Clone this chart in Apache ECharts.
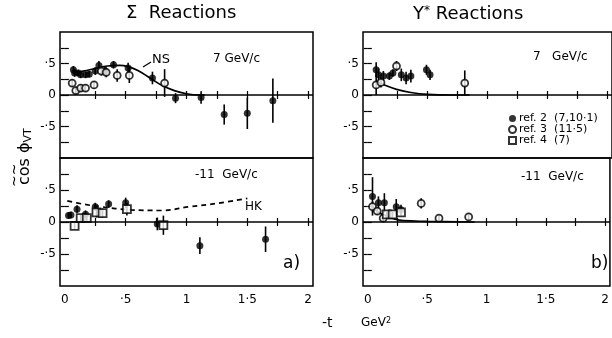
<!DOCTYPE html>
<html>
<head>
<meta charset="utf-8">
<script src="https://cdn.jsdelivr.net/npm/echarts@6/dist/echarts.min.js"></script>
<style>
  html, body { margin: 0; padding: 0; background: #fff; }
  #main { width: 612px; height: 338px; }
</style>
</head>
<body>
<div id="main"></div>
<script>
// 坐标刻度
var xLabelValues = [0, 0.5, 1, 1.5, 2];
var xLabelTexts = ['0', '·5', '1', '1·5', '2'];
var xTickValues = [0.25, 0.5, 0.75, 1, 1.25, 1.5, 1.75, 2];
var yLabelValues = [-0.5, 0, 0.5];
var yLabelTexts = ['-·5', '0', '·5'];
var yTickValues = [-0.75, -0.5, -0.25, 0, 0.25, 0.5, 0.75];

// Σ reactions, 7 GeV/c
var sig7FilledT = [0.07, 0.08, 0.11, 0.13, 0.17, 0.20, 0.25, 0.28, 0.33, 0.40, 0.52, 0.72, 0.91, 1.12, 1.31, 1.50, 1.71];
var sig7FilledV = [0.40, 0.35, 0.35, 0.32, 0.32, 0.33, 0.38, 0.47, 0.38, 0.48, 0.43, 0.27, -0.05, -0.04, -0.31, -0.29, -0.09];
var sig7FilledE = [0.06, 0.06, 0.05, 0.05, 0.05, 0.05, 0.06, 0.07, 0.07, 0.06, 0.08, 0.10, 0.08, 0.10, 0.16, 0.25, 0.35];
var sig7OpenT = [0.06, 0.09, 0.13, 0.17, 0.24, 0.30, 0.34, 0.43, 0.53, 0.82];
var sig7OpenV = [0.19, 0.07, 0.11, 0.11, 0.16, 0.38, 0.36, 0.31, 0.31, 0.19];
var sig7OpenE = [0.06, 0.06, 0.06, 0.06, 0.06, 0.07, 0.08, 0.10, 0.12, 0.22];
var nsCurveT = [0.07, 0.15, 0.25, 0.35, 0.45, 0.52, 0.60, 0.70, 0.80, 0.90, 1.00, 1.10, 1.15];
var nsCurveV = [0.36, 0.38, 0.42, 0.46, 0.47, 0.45, 0.39, 0.27, 0.15, 0.07, 0.02, 0.0, 0.0];

// Σ reactions, 11 GeV/c
var sig11FilledT = [0.03, 0.05, 0.10, 0.17, 0.25, 0.36, 0.50, 0.76, 1.11, 1.65];
var sig11FilledV = [0.10, 0.11, 0.20, 0.12, 0.24, 0.28, 0.30, -0.03, -0.37, -0.27];
var sig11FilledE = [0.05, 0.05, 0.06, 0.06, 0.06, 0.06, 0.08, 0.10, 0.13, 0.20];
var sig11SquareT = [0.08, 0.13, 0.18, 0.26, 0.31, 0.51, 0.81];
var sig11SquareV = [-0.06, 0.06, 0.06, 0.15, 0.14, 0.20, -0.05];
var sig11SquareE = [0.05, 0.05, 0.05, 0.08, 0.07, 0.10, 0.15];
var hkCurveT = [0.02, 0.15, 0.29, 0.54, 0.79, 1.03, 1.25, 1.50];
var hkCurveV = [0.33, 0.28, 0.24, 0.19, 0.18, 0.24, 0.29, 0.37];

// Y* reactions, 7 GeV/c
var ys7FilledT = [0.07, 0.09, 0.13, 0.18, 0.21, 0.28, 0.32, 0.36, 0.49, 0.52];
var ys7FilledV = [0.40, 0.32, 0.30, 0.30, 0.35, 0.32, 0.27, 0.30, 0.40, 0.32];
var ys7FilledE = [0.12, 0.10, 0.08, 0.06, 0.06, 0.10, 0.10, 0.10, 0.08, 0.08];
var ys7OpenT = [0.07, 0.11, 0.24, 0.81];
var ys7OpenV = [0.16, 0.20, 0.46, 0.19];
var ys7OpenE = [0.16, 0.08, 0.08, 0.20];
var ys7CurveT = [0.07, 0.15, 0.24, 0.36, 0.50, 0.70, 0.85];
var ys7CurveV = [0.22, 0.15, 0.09, 0.04, 0.01, 0.0, 0.0];

// Y* reactions, 11 GeV/c
var ys11FilledT = [0.04, 0.09, 0.14, 0.24, 0.28];
var ys11FilledV = [0.40, 0.30, 0.30, 0.24, 0.19];
var ys11FilledE = [0.30, 0.10, 0.15, 0.12, 0.08];
var ys11OpenT = [0.04, 0.08, 0.13, 0.45, 0.60, 0.85];
var ys11OpenV = [0.24, 0.17, 0.06, 0.29, 0.06, 0.08];
var ys11OpenE = [0.08, 0.06, 0.06, 0.08, 0.05, 0.05];
var ys11SquareT = [0.16, 0.21, 0.28];
var ys11SquareV = [0.12, 0.12, 0.15];
var ys11SquareE = [0.04, 0.04, 0.05];
var ys11CurveT = [0.04, 0.10, 0.20, 0.30, 0.50, 0.90];
var ys11CurveV = [0.24, 0.14, 0.06, 0.02, 0.01, 0.0];

var refNames = ['ref. 2  (7,10·1)', 'ref. 3  (11·5)', 'ref. 4  (7)'];

var FONT = 'DejaVu Sans';
var myChart = echarts.init(document.getElementById('main'));

var grids = [
    { left: 60, top: 32, width: 253, height: 126 },
    { left: 60, top: 158, width: 253, height: 128 },
    { left: 363, top: 32, width: 250, height: 126 },
    { left: 363, top: 158, width: 250, height: 128 }
];

var xAxes = [];
var yAxes = [];
grids.forEach(function(g, i) {
    g.show = true;
    g.borderColor = '#000';
    g.borderWidth = 1.5;
    g.backgroundColor = 'transparent';
    var showX = (i === 1 || i === 3);
    ['bottom', 'top'].forEach(function(pos) {
        xAxes.push({
            type: 'value', gridIndex: i, position: pos, min: -0.04, max: 2.04,
            axisLine: { show: false },
            splitLine: { show: false },
            axisTick: { show: true, inside: true, length: 4, customValues: xTickValues,
                lineStyle: { color: '#000', width: 1.2 } },
            axisLabel: {
                show: showX && pos === 'bottom', customValues: xLabelValues,
                color: '#000', fontFamily: FONT, fontSize: 12, margin: 8,
                formatter: function(v) {
                    var k = xLabelValues.indexOf(Math.round(v * 100) / 100);
                    return k >= 0 ? xLabelTexts[k] : '';
                }
            }
        });
    });
    ['left', 'right'].forEach(function(pos) {
        yAxes.push({
            type: 'value', gridIndex: i, position: pos, min: -1, max: 1,
            axisLine: { show: false },
            splitLine: { show: false },
            axisTick: { show: true, inside: true, length: 4, customValues: yTickValues,
                lineStyle: { color: '#000', width: 1.2 } },
            axisLabel: {
                show: pos === 'left', customValues: yLabelValues,
                color: '#000', fontFamily: FONT, fontSize: 12, margin: 4,
                formatter: function(v) {
                    var k = yLabelValues.indexOf(Math.round(v * 100) / 100);
                    return k >= 0 ? yLabelTexts[k] : '';
                }
            }
        });
    });
});

var series = [];

var zip = function(a, b, c) {
    var out = [];
    for (var i = 0; i < a.length; i++) {
        out.push(c ? [a[i], b[i], c[i]] : [a[i], b[i]]);
    }
    return out;
};

var markerStyle = {
    filled: { symbol: 'circle', symbolSize: 7, itemStyle: { color: '#000' } },
    open: { symbol: 'circle', symbolSize: 7, itemStyle: { color: '#fff', borderColor: '#000', borderWidth: 1.8 } },
    square: { symbol: 'rect', symbolSize: 8, itemStyle: { color: '#fff', borderColor: '#000', borderWidth: 1.8 } }
};
var kindName = { filled: refNames[0], open: refNames[1], square: refNames[2] };

var addSet = function(panel, kind, t, v, e) {
    series.push({
        type: 'custom',
        xAxisIndex: panel * 2, yAxisIndex: panel * 2,
        data: zip(t, v, e),
        encode: { x: 0, y: 1 },
        silent: true,
        z: 2,
        renderItem: function(params, api) {
            var a = api.coord([api.value(0), api.value(1) - api.value(2)]);
            var b = api.coord([api.value(0), api.value(1) + api.value(2)]);
            return {
                type: 'line',
                shape: { x1: a[0], y1: a[1], x2: b[0], y2: b[1] },
                style: { stroke: '#000', lineWidth: 1.6 }
            };
        }
    });
    var m = markerStyle[kind];
    series.push({
        name: kindName[kind],
        type: 'scatter',
        xAxisIndex: panel * 2, yAxisIndex: panel * 2,
        data: zip(t, v),
        symbol: m.symbol,
        symbolSize: m.symbolSize,
        itemStyle: m.itemStyle,
        z: 4
    });
};

var addCurve = function(panel, t, v, dashed) {
    series.push({
        type: 'line',
        xAxisIndex: panel * 2, yAxisIndex: panel * 2,
        data: zip(t, v),
        smooth: 0.4,
        showSymbol: false,
        silent: true,
        z: 3,
        lineStyle: { color: '#000', width: 1.7, type: dashed ? [5, 4] : 'solid' },
        markLine: {
            silent: true, symbol: 'none', label: { show: false },
            lineStyle: { color: '#000', width: 1.6, type: 'solid' },
            data: [{ yAxis: 0 }]
        }
    });
};

addCurve(0, nsCurveT, nsCurveV, false);
addSet(0, 'filled', sig7FilledT, sig7FilledV, sig7FilledE);
addSet(0, 'open', sig7OpenT, sig7OpenV, sig7OpenE);

addCurve(1, hkCurveT, hkCurveV, true);
addSet(1, 'filled', sig11FilledT, sig11FilledV, sig11FilledE);
addSet(1, 'square', sig11SquareT, sig11SquareV, sig11SquareE);

addCurve(2, ys7CurveT, ys7CurveV, false);
addSet(2, 'filled', ys7FilledT, ys7FilledV, ys7FilledE);
addSet(2, 'open', ys7OpenT, ys7OpenV, ys7OpenE);

addCurve(3, ys11CurveT, ys11CurveV, false);
addSet(3, 'filled', ys11FilledT, ys11FilledV, ys11FilledE);
addSet(3, 'open', ys11OpenT, ys11OpenV, ys11OpenE);
addSet(3, 'square', ys11SquareT, ys11SquareV, ys11SquareE);

var txt = function(x, y, s, size) {
    return {
        type: 'text', left: x, top: y, silent: true,
        style: { text: s, fill: '#000', font: (size || 12) + 'px "' + FONT + '"' }
    };
};

var option = {
    animation: false,
    backgroundColor: '#fff',
    grid: grids,
    xAxis: xAxes,
    yAxis: yAxes,
    legend: {
        data: refNames,
        orient: 'vertical',
        left: 503, top: 108,
        itemWidth: 7, itemHeight: 7, itemGap: 0,
        selectedMode: false,
        textStyle: { color: '#000', fontFamily: FONT, fontSize: 11, padding: [0, 0, 0, -2] }
    },
    graphic: [
        txt(126, 4, 'Σ  Reactions', 18),
        {
            type: 'text', left: 413, top: 5, silent: true,
            style: {
                text: 'Y{s|*} Reactions',
                fill: '#000', font: '18px "' + FONT + '"',
                rich: { s: { fontSize: 12, verticalAlign: 'top', fill: '#000', fontFamily: FONT } }
            }
        },
        txt(213, 53, '7 GeV/c', 12),
        txt(195, 169, '-11  GeV/c', 12),
        txt(533, 51, '7   GeV/c', 12),
        txt(521, 171, '-11  GeV/c', 12),
        txt(152, 53, 'NS', 13),
        {
            type: 'line', silent: true,
            shape: { x1: 151, y1: 62, x2: 143, y2: 67 },
            style: { stroke: '#000', lineWidth: 1.2 }
        },
        txt(245, 201, 'HK', 12),
        txt(283, 255, 'a)', 17),
        txt(591, 255, 'b)', 17),
        txt(322, 316, '-t', 14),
        {
            type: 'text', left: 361, top: 317, silent: true,
            style: {
                text: 'GeV{s|2}', fill: '#000', font: '12px "' + FONT + '"',
                rich: { s: { fontSize: 8, verticalAlign: 'top', fill: '#000', fontFamily: FONT } }
            }
        },
        {
            type: 'text', x: 15, y: 185, rotation: Math.PI / 2, silent: true,
            style: {
                text: 'cos ϕ{s|VT}', fill: '#000', font: '16px "' + FONT + '"',
                rich: { s: { fontSize: 11, verticalAlign: 'bottom', fill: '#000', fontFamily: FONT, padding: [8, 0, 0, 0] } }
            }
        },
        {
            type: 'text', x: 8, y: 187, rotation: Math.PI / 2, silent: true,
            style: { text: '~~', fill: '#000', font: '14px "' + FONT + '"' }
        }
    ],
    series: series
};

myChart.setOption(option);
</script>
</body>
</html>
